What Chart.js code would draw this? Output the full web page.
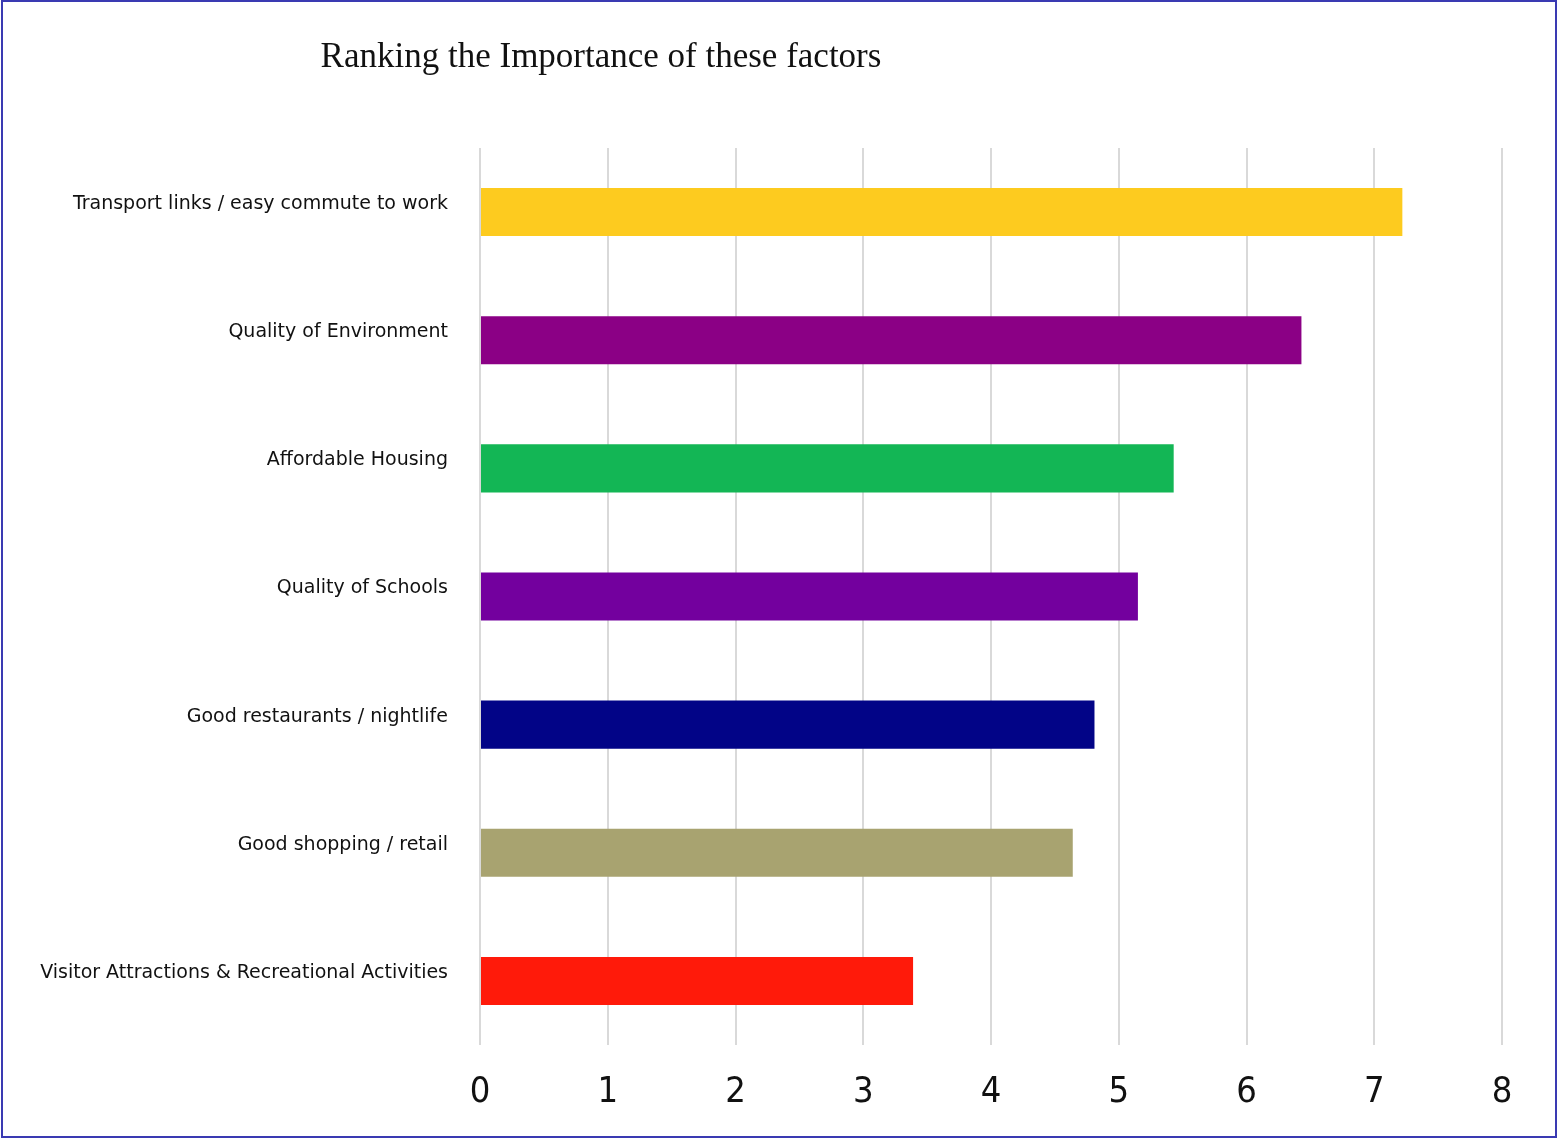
<!DOCTYPE html>
<html>
<head>
<meta charset="utf-8">
<script src="https://cdn.jsdelivr.net/npm/chart.js@4/dist/chart.umd.min.js"></script>
<style>
  html, body { margin: 0; padding: 0; background: #ffffff; }
  #wrap { position: relative; width: 1557px; height: 1139px; overflow: hidden; }
  #c { position: absolute; left: 0; top: 0; }
  #frame { position: absolute; left: 1px; top: 0; width: 1556px; height: 1138px; box-sizing: border-box;
           border: 2px solid #3a3ab2; pointer-events: none; }
  #title { position: absolute; left: 0; width: 1202px; top: 36px; text-align: center;
           font-family: "Liberation Serif", "DejaVu Serif", serif; font-size: 35px; color: #111; white-space: nowrap; }
</style>
</head>
<body>
<div id="wrap">
  <canvas id="c" width="1557" height="1139"></canvas>
  <div id="title">Ranking the Importance of these factors</div>
  <div id="frame"></div>
</div>
<script>
const categories = [
  "Transport links / easy commute to work",
  "Quality of Environment",
  "Affordable Housing",
  "Quality of Schools",
  "Good restaurants / nightlife",
  "Good shopping / retail",
  "Visitor Attractions & Recreational Activities"
];
const scores = [7.22, 6.43, 5.43, 5.15, 4.81, 4.64, 3.39];
const barColors = ["#FDCB1F", "#8B0085", "#13B655", "#73009E", "#020487", "#A8A370", "#FF1A0A"];
const xTicks = [0, 1, 2, 3, 4, 5, 6, 7, 8];

new Chart(document.getElementById('c'), {
  type: 'bar',
  data: {
    labels: categories,
    datasets: [{
      data: scores,
      backgroundColor: barColors,
      borderWidth: 0,
      barPercentage: 0.375,
      categoryPercentage: 1.0
    }]
  },
  options: {
    indexAxis: 'y',
    responsive: false,
    animation: false,
    layout: { padding: { top: 148, right: 55, left: 10, bottom: 0 } },
    plugins: { legend: { display: false }, tooltip: { enabled: false }, title: { display: false } },
    scales: {
      x: {
        min: xTicks[0], max: xTicks[xTicks.length - 1],
        afterBuildTicks: (s) => { s.ticks = xTicks.map(v => ({ value: v })); },
        grid: { color: '#d9d9d9', lineWidth: 2, drawTicks: false },
        border: { display: false },
        ticks: { color: '#111', padding: 26,
          font: { family: '"Liberation Sans Narrow", "DejaVu Sans Condensed", "Liberation Sans", sans-serif', size: 36 } },
        afterFit: (s) => { s.height = 94; }
      },
      y: {
        grid: { display: false, drawTicks: false },
        border: { display: false },
        ticks: { color: '#111', padding: 32, labelOffset: -8,
          font: { family: '"DejaVu Sans", sans-serif', size: 19 } },
        afterFit: (s) => { s.width = 470; }
      }
    }
  }
});
</script>
</body>
</html>
